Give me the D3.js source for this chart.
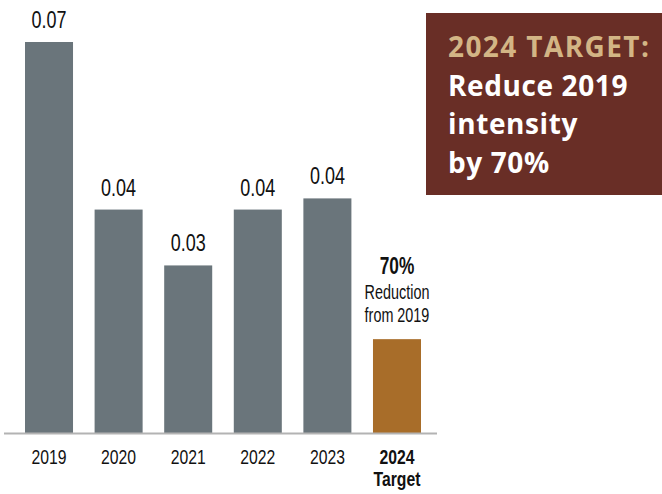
<!DOCTYPE html>
<html>
<head>
<meta charset="utf-8">
<script src="https://cdn.jsdelivr.net/npm/d3@7"></script>
<style>
  html, body { margin: 0; padding: 0; background: #ffffff; }
  svg { display: block; }
</style>
</head>
<body>
<div id="chart"></div>
<script>
// Emissions intensity by year, with the 2024 target
const years = ["2019", "2020", "2021", "2022", "2023", "2024"];
const intensity = [0.070, 0.040, 0.030, 0.040, 0.042, 0.0168];
const isTarget = [false, false, false, false, false, true];
const targetNote = ["70%", "Reduction", "from 2019"];
const calloutLines = ["2024 TARGET:", "Reduce 2019", "intensity", "by 70%"];

const W = 662, H = 494;
// condensed look: regular sans squeezed horizontally
const condFont = "'Liberation Sans', Arial, sans-serif";
const squeeze = 0.75;

const svg = d3.select("#chart").append("svg")
  .attr("width", W).attr("height", H);

const x = d3.scaleBand()
  .domain(years)
  .range([25, 421])
  .paddingInner(0.31)
  .paddingOuter(0);

const y = d3.scaleLinear()
  .domain([0, 0.07])
  .range([433, 42]);

const data = years.map((yr, i) => ({ yr, v: intensity[i], target: isTarget[i] }));

// bars
svg.append("g").selectAll("rect")
  .data(data)
  .join("rect")
  .attr("x", d => x(d.yr))
  .attr("y", d => y(d.v))
  .attr("width", x.bandwidth())
  .attr("height", d => y(0) - y(d.v))
  .attr("fill", d => d.target ? "#a86d29" : "#6a757b");

// value labels on the historical bars
const fmt = d3.format(".2f");
svg.append("g").selectAll("text")
  .data(data.filter(d => !d.target))
  .join("text")
  .attr("transform", d => `translate(${x(d.yr) + x.bandwidth() / 2},${y(d.v) - 14}) scale(${squeeze},1)`)
  .attr("text-anchor", "middle")
  .style("font-family", condFont)
  .style("font-size", "24px")
  .attr("fill", "#111")
  .text(d => fmt(d.v));

// note above the target bar
const tgt = data.find(d => d.target);
const noteX = x(tgt.yr) + x.bandwidth() / 2;
const note = svg.append("text")
  .attr("transform", `translate(${noteX},0) scale(0.72,1)`)
  .attr("text-anchor", "middle")
  .style("font-family", condFont)
  .attr("fill", "#111");
note.append("tspan").attr("x", 0).attr("y", 274)
  .style("font-size", "24px").style("font-weight", "bold").text(targetNote[0]);
note.append("tspan").attr("x", 0).attr("y", 299)
  .style("font-size", "20px").text(targetNote[1]);
note.append("tspan").attr("x", 0).attr("y", 322)
  .style("font-size", "20px").text(targetNote[2]);

// category axis
const axis = svg.append("g")
  .attr("transform", `translate(0, ${y(0)})`)
  .call(d3.axisBottom(x).tickSize(0).tickPadding(0));
axis.select(".domain").remove();
axis.selectAll(".tick text")
  .attr("y", 31)
  .attr("dy", null)
  .attr("transform", `scale(${squeeze},1)`)
  .style("font-family", condFont)
  .style("font-size", "21px")
  .attr("fill", "#111")
  .each(function (d) {
    const i = years.indexOf(d);
    if (isTarget[i]) {
      const t = d3.select(this).text(null).style("font-weight", "bold");
      t.append("tspan").attr("x", 0).attr("y", 31).text(d);
      t.append("tspan").attr("x", 0).attr("y", 53).text("Target");
    }
  });

// baseline
svg.append("line")
  .attr("x1", 4).attr("x2", 437)
  .attr("y1", y(0) + 0.5).attr("y2", y(0) + 0.5)
  .attr("stroke", "#b3b3b3")
  .attr("stroke-width", 2);

// target callout box
const box = svg.append("g");
box.append("rect")
  .attr("x", 426).attr("y", 13)
  .attr("width", W - 426).attr("height", 182)
  .attr("fill", "#692e26");
box.selectAll("text")
  .data(calloutLines)
  .join("text")
  .attr("x", 448)
  .attr("y", (d, i) => 57 + i * 38.5)
  .style("font-family", "'Open Sans', 'Liberation Sans', sans-serif")
  .style("font-weight", "bold")
  .style("font-size", "28px")
  .style("letter-spacing", (d, i) => i === 0 ? "1.4px" : "0.6px")
  .attr("fill", (d, i) => i === 0 ? "#d3b585" : "#ffffff")
  .text(d => d);
</script>
</body>
</html>
